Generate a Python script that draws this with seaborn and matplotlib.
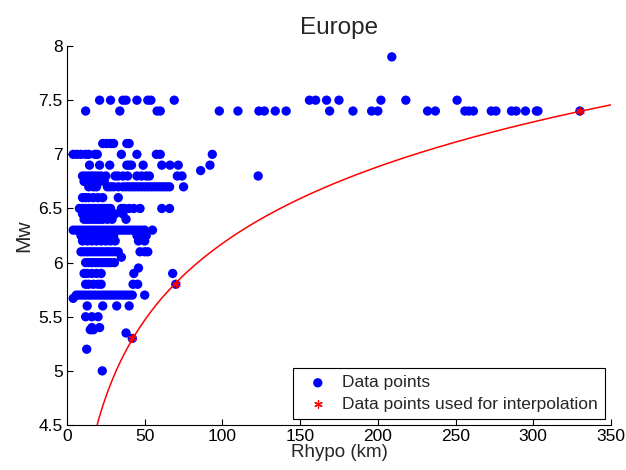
import numpy as np
import pandas as pd
import matplotlib
matplotlib.use("Agg")
import matplotlib.pyplot as plt
import seaborn as sns

# ---- data ----
rows = {
    7.9: [209],
    7.5: [21, 28, 36, 38, 45, 52, 54, 69, 156, 160, 167, 175, 202, 218, 251],
    7.4: [12, 34, 58, 60, 98, 110, 123.5, 127, 134, 141, 169, 184, 196, 200, 232, 237,
          256, 258.5, 261.5, 273, 276, 286, 289, 295, 302, 303, 330],
    7.1: [23, 25.5, 28, 30, 38.5, 40],
    7.0: [4, 6.5, 9, 12, 14, 18, 19.5, 35, 45, 57.5, 60, 93.5],
    6.9: [14.5, 21, 27.5, 38.5, 40, 41.5, 49, 61, 66.3, 71.6, 92],
    6.85: [86],
    6.8: [10, 12, 14, 16, 18, 20, 22, 25, 31, 33, 36, 39, 45, 48, 51, 53, 71, 74, 123],
    6.75: [11, 13, 17, 21, 24],
    6.7: [14, 17, 19, 26, 28, 30, 33, 36, 38, 40, 42, 44, 46, 48, 50, 52, 54, 56, 58,
          60, 62, 64, 66, 75],
    6.6: [10, 12, 14, 17, 20, 23, 33],
    6.5: [8, 10, 12, 14, 16, 18, 20, 22, 24, 26, 28, 35, 37, 40, 43, 47, 61, 66],
    6.45: [10, 13, 16, 19, 22, 25, 28, 31, 36],
    6.4: [11, 13, 15, 17, 19, 21, 23, 26, 29, 38],
    6.3: [4, 6, 8, 10, 12, 14, 16, 18, 20, 22, 24, 26, 28, 30, 32, 34, 36, 38, 40, 42,
          44, 46, 48, 50, 55],
    6.25: [9, 12, 15, 18, 21, 24, 27, 30, 45, 48, 51],
    6.2: [10, 13, 16, 19, 22, 25, 28, 31, 46, 50],
    6.1: [9, 11, 13, 15, 17, 19, 21, 23, 25, 27, 29, 31, 33, 47, 50, 52],
    6.05: [35],
    6.0: [12, 14, 16, 18, 20, 22, 24, 26, 28, 30.5],
    5.95: [46],
    5.9: [11, 13, 16, 19, 22, 43, 68],
    5.8: [12, 14, 17, 20, 22, 42.5, 45.5, 70],
    5.7: [6, 8, 10, 12, 14, 16, 18, 20, 22, 24, 26, 28, 30, 32, 34, 36, 38, 40, 42, 50],
    5.67: [4],
    5.6: [13, 23, 32, 40],
    5.5: [12, 16, 20],
    5.4: [16, 21],
    5.38: [15, 17],
    5.35: [38],
    5.3: [42],
    5.2: [12.7],
    5.0: [22.7],
}
rhypo = [r for m, rs in rows.items() for r in rs]
mw = [m for m, rs in rows.items() for r in rs]

interp_rhypo = [42, 70, 330]
interp_mw = [5.3, 5.8, 7.4]

x_ticks = [0, 50, 100, 150, 200, 250, 300, 350]
y_ticks = [4.5, 5, 5.5, 6, 6.5, 7, 7.5, 8]
y_tick_labels = ["4.5", "5", "5.5", "6", "6.5", "7", "7.5", "8"]

# ---- plot ----
sns.set_style("white")
plt.rcParams["font.family"] = ["Liberation Sans", "DejaVu Sans"]

fig = plt.figure(figsize=(6.26, 4.70), dpi=100)
ax = fig.add_axes([0.107, 0.0957, 0.869, 0.8063])

df = pd.DataFrame({"Rhypo": rhypo, "Mw": mw})
sns.scatterplot(data=df, x="Rhypo", y="Mw", ax=ax, color="#0000ff", s=45,
                edgecolor="none", linewidth=0, label="Data points", zorder=3)

# interpolation curve fitted through the interpolation points (log model)
b, a = np.polyfit(np.log(interp_rhypo), interp_mw, 1)
rr = np.linspace(15, 350, 400)
curve = pd.DataFrame({"Rhypo": rr, "Mw": a + b * np.log(rr)})
sns.lineplot(data=curve, x="Rhypo", y="Mw", ax=ax, color="red", linewidth=1.1,
             zorder=4, legend=False)

idf = pd.DataFrame({"Rhypo": interp_rhypo, "Mw": interp_mw})
sns.scatterplot(data=idf, x="Rhypo", y="Mw", ax=ax, color="red",
                marker=(6, 2, 0), s=30, linewidth=0.9,
                label="Data points used for interpolation", zorder=5)

ax.set_xlim(0, 350)
ax.set_ylim(4.5, 8)
ax.set_xticks(x_ticks)
ax.set_xticklabels([str(t) for t in x_ticks])
ax.set_yticks(y_ticks)
ax.set_yticklabels(y_tick_labels)
ax.tick_params(direction="in", length=4, width=0.8, colors="black",
               labelsize=12.5, pad=3, bottom=True, left=True)
for s in ["top", "right"]:
    ax.spines[s].set_visible(False)
for s in ["left", "bottom"]:
    ax.spines[s].set_color("black")
    ax.spines[s].set_linewidth(0.8)

ax.set_xlabel("Rhypo (km)", fontsize=13.5, labelpad=0)
ax.set_ylabel("Mw", fontsize=15, labelpad=4)
ax.set_title("Europe", fontsize=17.5, pad=9)

leg = ax.legend(loc="lower right", bbox_to_anchor=(0.995, 0.008), fontsize=12.5,
                frameon=True, fancybox=False, edgecolor="black", framealpha=1,
                borderpad=0.4, labelspacing=0.35, handletextpad=0.4,
                handlelength=2.0, borderaxespad=0.2)
leg.get_frame().set_linewidth(0.8)

fig.savefig("out.png", dpi=100)
